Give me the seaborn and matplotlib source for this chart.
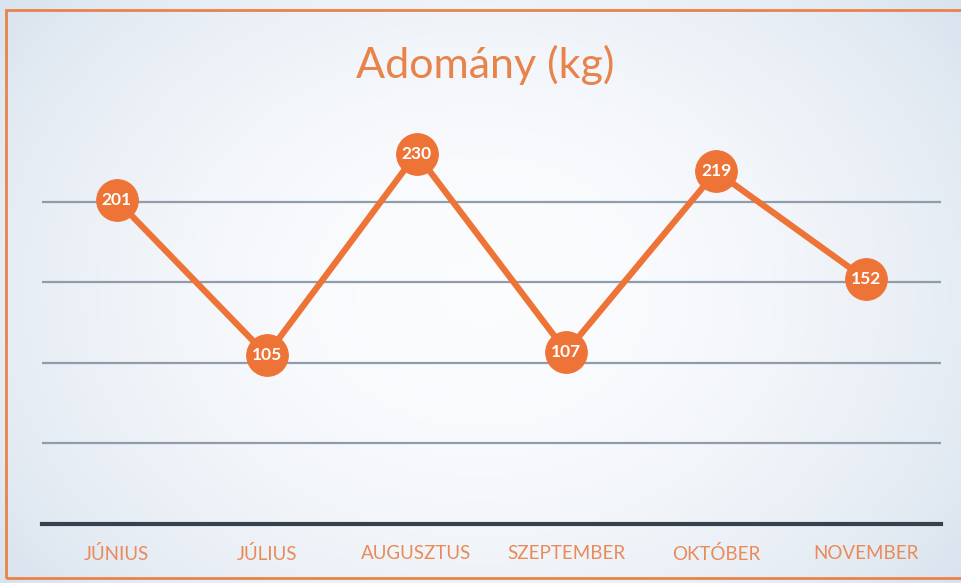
import numpy as np
import matplotlib
matplotlib.use("Agg")
import matplotlib.pyplot as plt
from matplotlib.patches import Rectangle
from pandas import DataFrame
import seaborn as sns

# data
months = ['JÚNIUS', 'JÚLIUS', 'AUGUSZTUS', 'SZEPTEMBER', 'OKTÓBER', 'NOVEMBER']
donation = [201, 105, 230, 107, 219, 152]
grid_vals = [50, 100, 150, 200]

orange = '#ee7336'
label_orange = '#e98a58'

sns.set_style('white')
plt.rcParams['font.family'] = ['Lato', 'DejaVu Sans']

fig = plt.figure(figsize=(9.61, 5.83), dpi=100)
fig.patch.set_facecolor('#ffffff')

# background gradient (bluish edges, paler centre)
bg = fig.add_axes([0, 0, 1, 1], zorder=0)
xx = np.linspace(-1, 1, 400)
yy = np.linspace(-1, 1, 250)
X, Y = np.meshgrid(xx, yy)
grad = np.clip(0.6 * X**2 + 0.35 * Y**2, 0, 1)
bg.imshow(grad, cmap=matplotlib.colors.LinearSegmentedColormap.from_list(
    'bgc', ['#fbfcfe', '#d9e3ee']), aspect='auto', extent=[0, 1, 0, 1])
bg.set_axis_off()
# orange frame of the slide
fig.patches.append(Rectangle((0.006, 0.008), 1.2, 0.975, transform=fig.transFigure,
                             fill=False, edgecolor='#e8834a', lw=2, zorder=1))

df = DataFrame({'month': months, 'kg': donation})
df['pos'] = range(len(months))

ax = fig.add_axes([0.0437, 0.1012, 0.9353, 0.6904], zorder=2)
ax.patch.set_alpha(0)
sns.lineplot(data=df, x='pos', y='kg', ax=ax, color=orange, lw=4.5,
             marker='o', markersize=30, markeredgecolor=orange,
             markerfacecolor=orange, zorder=3)
for x, y in zip(df['pos'], df['kg']):
    ax.text(x, y, str(y), color='white', fontsize=12.5, fontweight='bold',
            ha='center', va='center', zorder=4)

ax.set_xlim(-0.5, len(months) - 0.5)
ax.set_ylim(0, 250)
ax.set_yticks(grid_vals)
ax.set_yticklabels([])
ax.grid(axis='y', color='#8f9cab', lw=1.6)
ax.set_xticks(df['pos'])
ax.set_xticklabels(months, color=label_orange, fontsize=13.5)
ax.tick_params(axis='x', length=0, pad=15)
ax.tick_params(axis='y', length=0)
for s in ['top', 'right', 'left']:
    ax.spines[s].set_visible(False)
ax.spines['bottom'].set_color('#36414d')
ax.spines['bottom'].set_linewidth(3)
ax.set_xlabel('')
ax.set_ylabel('')

fig.text(0.505, 0.888, 'Adomány (kg)', color='#e8834a', fontsize=31,
         ha='center', va='center')

fig.savefig('out.png', dpi=100)
